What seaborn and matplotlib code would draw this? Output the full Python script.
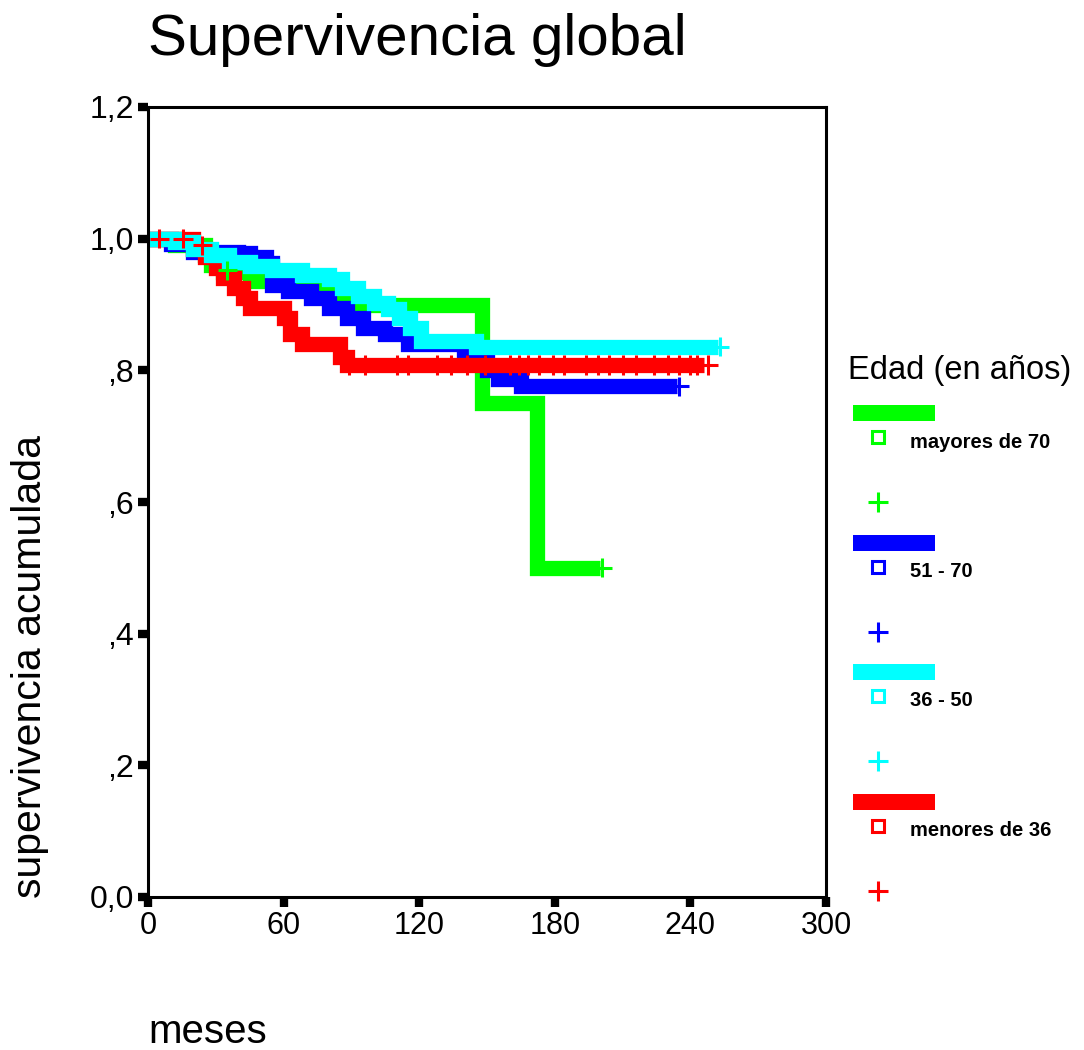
import numpy as np
import pandas as pd
import seaborn as sns
import matplotlib.pyplot as plt
from matplotlib.patches import Rectangle

# Kaplan-Meier step values (months, cumulative survival)
groups = ['mayores de 70', '51 - 70', '36 - 50', 'menores de 36']
colors = ['#00ff00', '#0000ff', '#00ffff', '#ff0000']
draw_order = ['mayores de 70', '51 - 70', 'menores de 36', '36 - 50']

green_t = [0, 12, 25, 28, 33, 45, 68, 82, 92, 148, 172, 200]
green_s = [1.0, 0.99, 0.975, 0.96, 0.95, 0.935, 0.922, 0.912, 0.9, 0.75, 0.5, 0.5]

blue_t = [0, 10, 20, 40, 45, 52, 55, 62, 72, 80, 88, 95, 105, 115, 140, 150, 155, 165, 234]
blue_s = [1.0, 0.992, 0.98, 0.978, 0.972, 0.963, 0.93, 0.92, 0.91, 0.895, 0.88, 0.865,
          0.855, 0.84, 0.825, 0.8, 0.787, 0.776, 0.776]

cyan_t = [0, 12, 20, 28, 36, 45, 55, 68, 80, 86, 93, 100, 106, 111, 116, 121, 145, 252]
cyan_s = [1.0, 0.995, 0.985, 0.975, 0.965, 0.958, 0.952, 0.945, 0.938, 0.925, 0.913,
          0.903, 0.893, 0.88, 0.865, 0.845, 0.836, 0.836]

red_t = [0, 20, 25, 30, 33, 38, 42, 45, 60, 63, 68, 85, 88, 246]
red_s = [1.0, 0.985, 0.972, 0.955, 0.94, 0.925, 0.91, 0.895, 0.88, 0.855, 0.84, 0.82,
         0.808, 0.808]

# censored cases (+)
green_ct = [35, 201]
green_cs = [0.952, 0.5]
blue_ct = [235]
blue_cs = [0.776]
cyan_ct = [253]
cyan_cs = [0.836]
red_ct = [5, 15.5, 24, 89, 96, 110, 115, 128, 134, 141, 149, 160, 164, 168, 173, 179,
          184, 194, 199, 204, 210, 216, 224, 230, 235, 240, 243, 248]
red_cs = [1.0, 1.0, 0.99, 0.808, 0.808, 0.808, 0.808, 0.808, 0.808, 0.808, 0.808, 0.808,
          0.808, 0.808, 0.808, 0.808, 0.808, 0.808, 0.808, 0.808, 0.808, 0.808, 0.808,
          0.808, 0.808, 0.808, 0.808, 0.808]

xticks = [0, 60, 120, 180, 240, 300]
yticks = [0.0, 0.2, 0.4, 0.6, 0.8, 1.0, 1.2]
ytick_labels = ['0,0', ',2', ',4', ',6', ',8', '1,0', '1,2']

curves = pd.concat([
    pd.DataFrame({'t': green_t, 's': green_s, 'grupo': groups[0]}),
    pd.DataFrame({'t': blue_t, 's': blue_s, 'grupo': groups[1]}),
    pd.DataFrame({'t': cyan_t, 's': cyan_s, 'grupo': groups[2]}),
    pd.DataFrame({'t': red_t, 's': red_s, 'grupo': groups[3]}),
], ignore_index=True)
cens = pd.concat([
    pd.DataFrame({'t': green_ct, 's': green_cs, 'grupo': groups[0]}),
    pd.DataFrame({'t': blue_ct, 's': blue_cs, 'grupo': groups[1]}),
    pd.DataFrame({'t': cyan_ct, 's': cyan_cs, 'grupo': groups[2]}),
    pd.DataFrame({'t': red_ct, 's': red_cs, 'grupo': groups[3]}),
], ignore_index=True)

sns.set_style('ticks')
plt.rcParams['font.family'] = ['Liberation Sans', 'DejaVu Sans']
plt.rcParams['text.color'] = 'black'
plt.rcParams['xtick.color'] = 'black'
plt.rcParams['ytick.color'] = 'black'

W, H = 1084, 1050
fig = plt.figure(figsize=(W / 100, H / 100), dpi=100)
ax = fig.add_axes([148 / W, 1 - 897 / H, (826 - 148) / W, (897 - 107) / H])

pal = dict(zip(groups, colors))
sns.lineplot(data=curves, x='t', y='s', hue='grupo', hue_order=draw_order, palette=pal,
             estimator=None, sort=False, drawstyle='steps-post', lw=11,
             legend=False, ax=ax, solid_joinstyle='miter', solid_capstyle='butt')
sns.scatterplot(data=cens, x='t', y='s', hue='grupo', hue_order=groups, palette=pal,
                marker='+', s=190, linewidth=2.2, legend=False, ax=ax, zorder=5)

ax.set_xlim(0, 300)
ax.set_ylim(0, 1.2)
ax.set_xticks(xticks)
ax.set_xticklabels([str(v) for v in xticks], fontsize=22)
ax.set_yticks(yticks)
ax.set_yticklabels(ytick_labels, fontsize=23)
ax.tick_params(direction='out', length=7, width=6, color='black', labelcolor='black',
               pad=3, bottom=True, left=True)
ax.set_xlabel('')
ax.set_ylabel('')
for sp in ax.spines.values():
    sp.set_visible(True)
    sp.set_color('black')
    sp.set_linewidth(2.2)

fig.text(148 / W, 1 - 40 / H, 'Supervivencia global', fontsize=42, ha='left', va='center')
fig.text(30 / W, 1 - 667 / H, 'supervivencia acumulada', fontsize=29.5, rotation=90,
         ha='center', va='center')
fig.text(148 / W, 1 - 1032 / H, 'meses', fontsize=29, ha='left', va='center')

# legend drawn in pixel space
lax = fig.add_axes([0, 0, 1, 1], facecolor='none')
lax.set_xlim(0, W)
lax.set_ylim(H, 0)
lax.axis('off')
lax.text(848, 370, 'Edad (en años)', fontsize=23.5, ha='left', va='center')
for i, (g, c) in enumerate(zip(groups, colors)):
    base = 405 + 129.5 * i
    lax.add_patch(Rectangle((853, base), 82, 16, color=c, lw=0))
    lax.plot([878], [base + 32], marker='s', ms=8.5, mfc='none', mec=c, mew=2.2)
    lax.text(910, base + 37, g, fontsize=14.5, fontweight='bold', ha='left', va='center')
    lax.plot([878], [base + 97], marker='+', ms=14, mec=c, mew=2.2)

fig.savefig('out.png', dpi=100)
